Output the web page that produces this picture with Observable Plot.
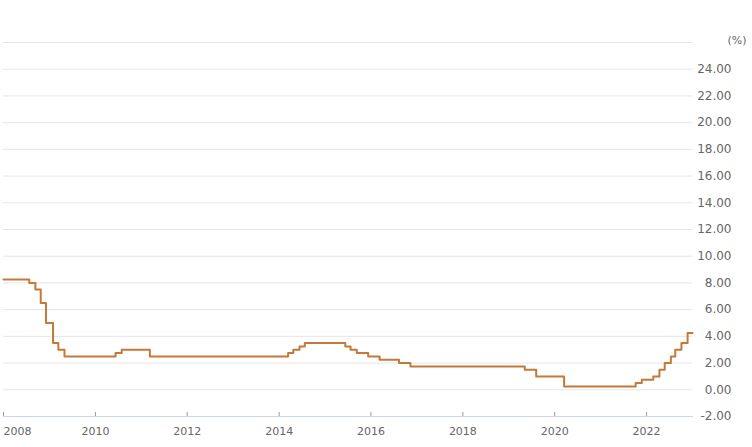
<!DOCTYPE html>
<html>
<head>
<meta charset="utf-8">
<script src="https://cdn.jsdelivr.net/npm/d3@7"></script>
<script src="https://cdn.jsdelivr.net/npm/@observablehq/plot@0.6"></script>
<style>
  html, body { margin: 0; padding: 0; background: #ffffff; }
  #chart { width: 752px; height: 447px; }
</style>
</head>
<body>
<div id="chart"></div>
<script>
// Policy rate change dates and levels (%)
const changeDates = ["2008-01-01","2008-07-24","2008-09-11","2008-10-23","2008-12-04","2009-01-29","2009-03-12","2009-04-30","2010-06-10","2010-07-29","2011-03-10","2014-03-13","2014-04-24","2014-06-12","2014-07-24","2015-06-11","2015-07-23","2015-09-10","2015-12-10","2016-03-10","2016-08-11","2016-11-10","2019-05-08","2019-08-07","2020-03-16","2021-10-06","2021-11-24","2022-02-23","2022-04-13","2022-05-25","2022-07-13","2022-08-17","2022-10-05","2022-11-23","2023-01-01"];
const rates = [8.25,8.0,7.5,6.5,5.0,3.5,3.0,2.5,2.75,3.0,2.5,2.75,3.0,3.25,3.5,3.25,3.0,2.75,2.5,2.25,2.0,1.75,1.5,1.0,0.25,0.5,0.75,1.0,1.5,2.0,2.5,3.0,3.5,4.25,4.25];
const xTickYears = [2008,2010,2012,2014,2016,2018,2020,2022];
const yTicks = [-2,0,2,4,6,8,10,12,14,16,18,20,22,24];
const yGridTicks = [0,2,4,6,8,10,12,14,16,18,20,22,24,26];
const unitLabel = "(%)";

const data = changeDates.map((d, i) => ({date: new Date(d + "T00:00:00Z"), rate: rates[i]}));
const yearDate = y => new Date(Date.UTC(y, 0, 1));

const font = "DejaVu Sans, sans-serif";
const textColor = "#666666";

const chart = Plot.plot({
  width: 752,
  height: 447,
  marginTop: 42,
  marginBottom: 31,
  marginLeft: 3,
  marginRight: 60,
  style: {fontFamily: font, fontSize: "11px", color: textColor, background: "#ffffff", overflow: "visible"},
  x: {type: "utc", domain: [yearDate(2008), yearDate(2023)]},
  y: {domain: [-2, 26]},
  marks: [
    Plot.gridY(yGridTicks, {stroke: "#e6e6e6", strokeOpacity: 1}),
    Plot.frame({anchor: "bottom", stroke: "#ccd6eb"}),
    Plot.axisX(xTickYears.map(yearDate), {tickSize: 4, dy: -4, text: null, stroke: "#999999"}),
    Plot.axisX(xTickYears.slice(1).map(yearDate), {tickSize: 0, tickPadding: 11, tickFormat: d => String(d.getUTCFullYear()), fill: textColor, label: null, fontSize: 11}),
    Plot.axisX([yearDate(2008)], {tickSize: 0, tickPadding: 11, textAnchor: "start", tickFormat: d => String(d.getUTCFullYear()), fill: textColor, label: null, fontSize: 11}),
    Plot.axisY(yTicks, {anchor: "right", tickSize: 0, tickPadding: 3, dx: 36, textAnchor: "end", tickFormat: d => d.toFixed(2), fill: textColor, label: null, fontSize: 12}),
    Plot.text([unitLabel], {frameAnchor: "top-right", lineAnchor: "middle", dx: 54, dy: -2, textAnchor: "end", fill: textColor, fontSize: 11}),
    Plot.line(data, {x: "date", y: "rate", curve: "step-after", stroke: "#c4783a", strokeWidth: 2})
  ]
});
document.getElementById("chart").appendChild(chart);
</script>
</body>
</html>
